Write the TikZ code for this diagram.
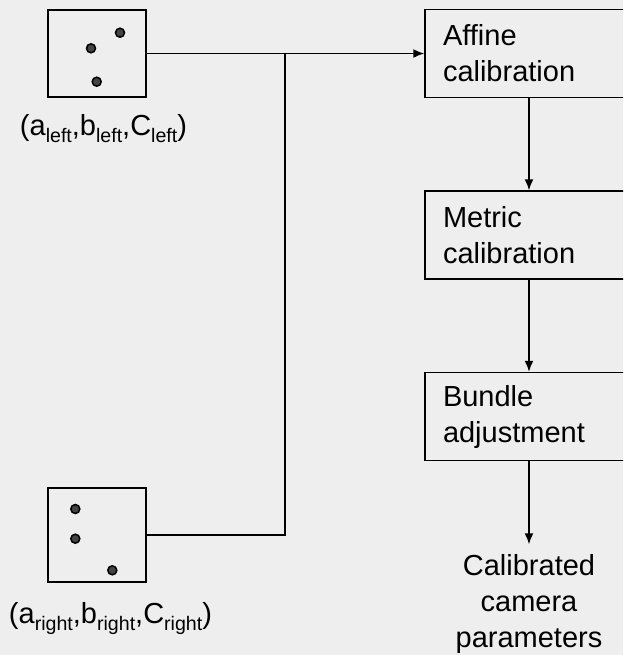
\documentclass[tikz,border=0pt]{standalone}
\usepackage{fontspec}
\setmainfont{Liberation Sans}
\usetikzlibrary{arrows.meta}
\usetikzlibrary{positioning}
\definecolor{canvas}{HTML}{EEEEEE}
\definecolor{dotgray}{HTML}{444444}
\newcommand{\boxfont}{\fontsize{14.5}{18}\selectfont}
\newcommand{\lowsub}[1]{\raisebox{-3.6pt}{\fontsize{9.8}{11}\selectfont #1}}
\tikzset{
	imgbox/.style={draw=black, line width=0.75pt, minimum width=49pt, inner sep=0pt},
	stepbox/.style={draw=black, line width=0.75pt, minimum height=44pt, text width=86pt,
		inner xsep=9pt, inner ysep=0pt, align=left, font=\boxfont},
	flow/.style={line width=0.75pt, -{Latex[length=5.5pt,width=4.5pt]}},
	wire/.style={line width=0.75pt},
	keypt/.style={draw=black, fill=dotgray, line width=0.75pt}
}

\begin{document}
\begin{tikzpicture}[x=0.5pt, y=-0.5pt, node distance=46pt]
		%canvas
		\path[use as bounding box, fill=canvas] (0,0) rectangle (623,655);
		\clip (0,0) rectangle (623,655);
		
		%image boxes
		\node[imgbox, minimum height=43.5pt] (leftimg) at (97,53.5) {};
		\node[imgbox, minimum height=47pt] (rightimg) at (97,535) {};
		
		%key points
		\foreach \x/\y in {120/32.7,91/48.3,96.7/81.7,75.3/509,75.3/538.7,112.3/570.3}
		\filldraw[keypt] (\x,\y) circle (2.25pt);
		
		%parameters
		\node[anchor=base, font=\boxfont, inner sep=0pt] (leftlbl) at (103.5,135)
			{(a\lowsub{left},b\lowsub{left},C\lowsub{left})};
		\node[anchor=base, font=\boxfont, inner sep=0pt] (rightlbl) at (110.5,623)
			{(a\lowsub{right},b\lowsub{right},C\lowsub{right})};
		
		%pipeline
		\node[stepbox] (affine) at (529,53.5) {Affine\\calibration};
		\node[stepbox, below=of affine] (metric) {Metric\\calibration};
		\node[stepbox, below=of metric] (bundle) {Bundle\\adjustment};
		\node[font=\boxfont, align=center, inner sep=5pt, below=41.5pt of bundle] (result)
			{Calibrated\\camera\\parameters};
		
		%connectors
		\coordinate (merge) at (285,53.5);
		\draw[flow] (leftimg.east) -- (affine.west);
		\draw[wire] (rightimg.east) -| (merge);
		\draw[flow] (affine) -- (metric);
		\draw[flow] (metric) -- (bundle);
		\draw[flow] (bundle) -- (result);
	\end{tikzpicture}
\end{document}
